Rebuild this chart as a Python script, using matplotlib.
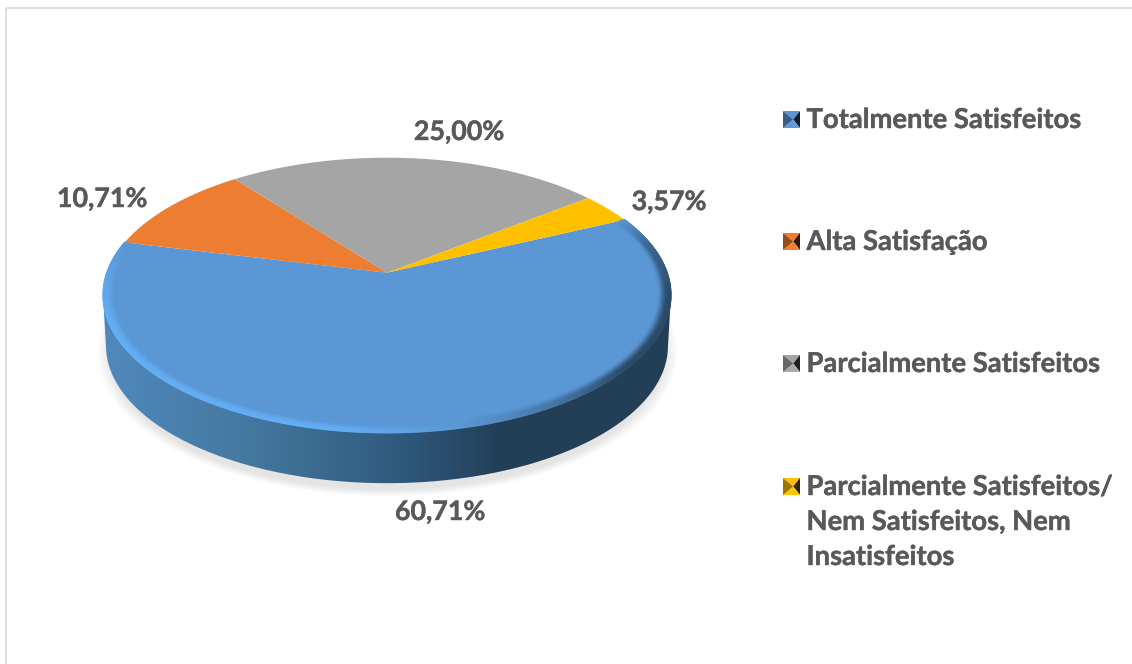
import numpy as np
import matplotlib
matplotlib.use('Agg')
import matplotlib.pyplot as plt
import matplotlib.patheffects as pe
from matplotlib.collections import LineCollection
from matplotlib.colors import to_rgb
from matplotlib.path import Path
from matplotlib.patches import PathPatch, Polygon, Rectangle
from matplotlib.transforms import Affine2D, Transform

categories = ['Totalmente Satisfeitos', 'Alta Satisfação', 'Parcialmente Satisfeitos',
              'Parcialmente Satisfeitos/\nNem Satisfeitos, Nem\nInsatisfeitos']
values = [60.71, 10.71, 25.00, 3.57]
colors = ['#5b97d5', '#ed7d31', '#a5a5a5', '#ffc000']

plt.rcParams['font.family'] = ['Lato', 'DejaVu Sans']
TXT = '#595959'
FAT = [pe.withStroke(linewidth=0.3, foreground=TXT)]

# pie geometry in pixels, the near side of the disc looks bigger
CX, CY = 387, 272.7
K = 0.1636
A, B = 133.8, 280.2
EY, RX, RY = 295.2, 284, 137.5
DEPTH = 50.5


class Tilt(Transform):
    # unit circle -> tilted disc
    input_dims = output_dims = 2
    has_inverse = False

    def transform_non_affine(self, xy):
        xy = np.asarray(xy, float)
        w = 1 + K * xy[:, 1]
        return np.column_stack([CX + B * xy[:, 0] / w, CY - A * xy[:, 1] / w])

    def transform_path_non_affine(self, path):
        # flatten the curves first, a big scale keeps them smooth
        big = Affine2D().scale(1000)
        poly = path.to_polygons(big, closed_only=False)[0] / 1000
        return Path(self.transform_non_affine(poly))


fig = plt.figure(figsize=(11.32, 6.64), dpi=100)
ax = fig.add_axes([0, 0, 1, 1])

# soft shadow below the disc
gx, gy = np.meshgrid(np.arange(85, 700), np.arange(260, 510))
d = np.hypot((gx - 387) / 291, (gy - 352) / 144)
shadow = np.ones(gx.shape + (4,)) * 0.75
shadow[..., 3] = np.clip((1.0 - d) / 0.05, 0, 1) * 0.42
ax.imshow(shadow, extent=(85, 700, 510, 260), zorder=1, aspect='auto')

# side of the disc
t = np.linspace(0, np.pi, 200)
top_x, top_y = CX + RX * np.cos(t), EY + RY * np.sin(t)
low_x, low_y = CX + (RX - 3) * np.cos(t), EY + DEPTH + RY * np.sin(t)
side = Path(np.column_stack([np.r_[top_x, low_x[::-1]], np.r_[top_y, low_y[::-1]]]))
side_patch = PathPatch(side, fc='none', ec='none', transform=ax.transData)
ax.add_patch(side_patch)
stops_x = [100, 250, 400, 500, 680]
stops = np.array([to_rgb(c) for c in ['#5089bd', '#44789f', '#2f5a7e', '#233f57', '#233f57']])
xs = np.arange(100, 680)
grad = np.stack([np.interp(xs, stops_x, stops[:, i]) for i in range(3)], axis=-1)[None, :, :]
im = ax.imshow(grad, extent=(100, 680, 500, 280), zorder=2, aspect='auto')
im.set_clip_path(side_patch)

# top face
wedges, _ = ax.pie(values, colors=colors, startangle=25, counterclock=False, radius=1)
tilt = Tilt() + ax.transData
for w in wedges:
    w.set_transform(tilt)
    w.set_zorder(3)
    w.set_clip_on(False)

# bevel along the near edge of the blue slice
ang = np.radians(np.linspace(166.5, 385, 500))
edge_ang = [166.5, 178, 200, 262, 283, 296, 320, 350, 372, 385]
edge_col = np.array([to_rgb(c) for c in ['#5b97d5', '#5ea3e2', '#64aef3', '#64aef3', '#5b97d5',
                                         '#4d80b0', '#2b4a66', '#2a4a68', '#3a6690', '#5b97d5']])
deg = np.degrees(ang)
rgb = np.stack([np.interp(deg, edge_ang, edge_col[:, i]) for i in range(3)], axis=-1)
for r, a in zip(np.linspace(0.998, 0.958, 10), np.linspace(1, 0.1, 10) ** 2):
    pts = Tilt().transform(np.column_stack([r * np.cos(ang), r * np.sin(ang)]))
    segs = np.stack([pts[:-1], pts[1:]], axis=1)
    ax.add_collection(LineCollection(segs, colors=np.c_[rgb[:-1], np.full(len(segs), a)],
                                     linewidths=1.6, zorder=4, capstyle='round'))

# data labels
label_pos = [(440, 512), (102, 199), (459, 132), (669, 202)]
for v, (x, y) in zip(values, label_pos):
    ax.text(x, y, f'{v:.2f}%'.replace('.', ','), fontsize=19.3, fontweight='bold', color=TXT,
            ha='center', va='center', zorder=5, path_effects=FAT)


# legend
def key(x, y, color, s=17):
    base = np.array(to_rgb(color))
    c = (x + s * 0.6, y + s / 2)
    tl, tr, bl, br = (x, y), (x + s, y), (x, y + s), (x + s, y + s)
    sides = [((tl, tr), 1.0), ((tr, br), 0.2), ((br, bl), 1.03), ((bl, tl), 0.62)]
    for (p, q), f in sides:
        ax.add_patch(Polygon([p, q, c], fc=np.clip(base * f, 0, 1), ec='none', zorder=5))


key_y = [111, 233, 355, 478]
for name, color, y in zip(categories, colors, key_y):
    key(783, y, color)
    ax.text(806.5, y - 3, name, fontsize=19.7, fontweight='bold', color=TXT, va='top', ha='left',
            linespacing=1.55, zorder=5, path_effects=FAT)

# chart frame
ax.add_patch(Rectangle((6, 7.5), 1130, 670, fc='none', ec='#dedede', lw=1.4, zorder=6))

ax.set_xlim(0, 1132)
ax.set_ylim(664, 0)
ax.set_aspect('auto')
ax.axis('off')

fig.savefig('out.png', dpi=100, facecolor='white')
